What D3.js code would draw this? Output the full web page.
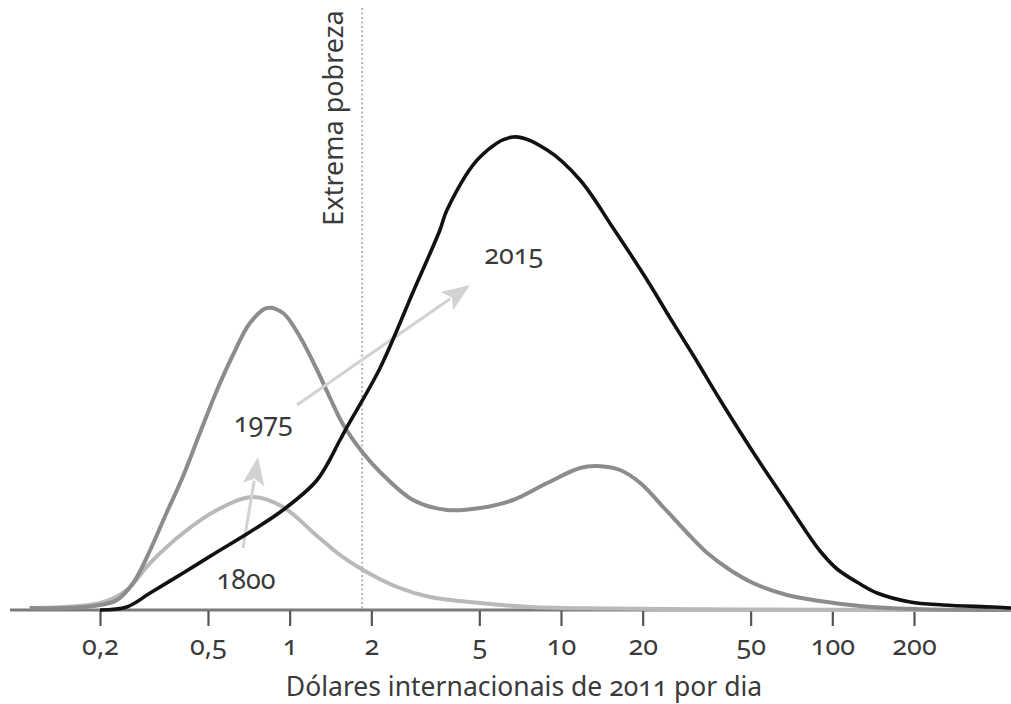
<!DOCTYPE html>
<html>
<head>
<meta charset="utf-8">
<script src="https://cdn.jsdelivr.net/npm/d3@7"></script>
<style>
  html, body { margin: 0; padding: 0; background: #fff; }
  svg { display: block; }
  text { font-family: "Noto Sans", "Open Sans", sans-serif; fill: #3a3a3a; font-variant-numeric: oldstyle-nums; }
</style>
</head>
<body>
<svg id="chart" width="1011" height="704"></svg>
<script>
// Income distribution (density by daily income, log scale), 2011 international dollars
const income1800 = [0.113, 0.2, 0.251, 0.306, 0.405, 0.54, 0.733, 0.945, 1.262, 1.533, 1.864, 2.488, 3.29, 5.03, 7.69, 15, 50, 150, 456];
const density1800 = [0.02, 0.07, 0.20, 0.47, 0.77, 1.00, 1.13, 1.03, 0.74, 0.55, 0.40, 0.23, 0.13, 0.07, 0.03, 0.015, 0.006, 0.002, 0.0];

const income1975 = [0.11, 0.151, 0.2, 0.231, 0.265, 0.298, 0.353, 0.405, 0.467, 0.54, 0.618, 0.714, 0.825, 0.945, 1.092, 1.262, 1.409, 1.57, 1.864, 2.154, 2.85, 3.8, 5.03, 6.66, 8.89, 11.76, 13.58, 16.5, 19.6, 23.8, 29.2, 34.6, 42.0, 51.0, 68.1, 90.1, 126.6, 200, 456];
const density1975 = [0.02, 0.02, 0.05, 0.10, 0.27, 0.53, 0.98, 1.34, 1.77, 2.20, 2.55, 2.87, 3.02, 2.97, 2.73, 2.40, 2.12, 1.86, 1.57, 1.38, 1.10, 1.00, 1.02, 1.10, 1.27, 1.42, 1.44, 1.40, 1.27, 1.03, 0.77, 0.57, 0.40, 0.27, 0.15, 0.09, 0.04, 0.01, 0.0];

const income2015 = [0.2, 0.251, 0.306, 0.405, 0.54, 0.714, 0.945, 1.262, 1.533, 1.627, 2.154, 2.85, 3.58, 3.8, 5.03, 6.66, 8.89, 11.76, 15.56, 20.76, 25.24, 30.68, 38.6, 51.0, 68.1, 80.7, 90.1, 104.1, 126.6, 146.2, 193.5, 256, 391, 456];
const density2015 = [0.0, 0.03, 0.17, 0.37, 0.58, 0.78, 1.00, 1.30, 1.70, 1.83, 2.42, 3.18, 3.80, 4.00, 4.53, 4.73, 4.60, 4.30, 3.82, 3.30, 2.92, 2.55, 2.10, 1.58, 1.07, 0.77, 0.59, 0.41, 0.26, 0.17, 0.08, 0.05, 0.03, 0.02];

const tickValues = [0.2, 0.5, 1, 2, 5, 10, 20, 50, 100, 200];
const tickLabels = ["0,2", "0,5", "1", "2", "5", "10", "20", "50", "100", "200"];

const povertyLine = 1.85;
const povertyLabel = "Extrema pobreza";
const axisTitle = "Dólares internacionais de 2011 por dia";

// Year labels and the arrows joining them, in data units (income, density)
const yearLabels = [
  { text: "1800", x: 0.69, y: 0.21 },
  { text: "1975", x: 0.8, y: 1.78 },
  { text: "2015", x: 6.7, y: 3.46 }
];
const arrows = [
  { from: [0.673, 0.62], to: [0.765, 1.53] },
  { from: [1.064, 2.05], to: [4.62, 3.25] }
];

const svg = d3.select("#chart");
const W = 1011;

const x = d3.scaleLog().domain([0.2, 200]).range([100, 914]);
const y = d3.scaleLinear().domain([0, 4.8]).range([610, 130]);

// Poverty line
svg.append("line")
  .attr("x1", x(povertyLine)).attr("x2", x(povertyLine))
  .attr("y1", 8).attr("y2", y(0))
  .attr("stroke", "#b4b4b4").attr("stroke-width", 2)
  .attr("stroke-dasharray", "2,2.5");

svg.append("text")
  .attr("transform", `translate(${x(povertyLine) - 19},${118}) rotate(-90)`)
  .attr("text-anchor", "middle")
  .attr("font-size", 27)
  .text(povertyLabel);

// Baseline across the full width
svg.append("line")
  .attr("x1", 10).attr("x2", W)
  .attr("y1", y(0)).attr("y2", y(0))
  .attr("stroke", "#7a7a7a").attr("stroke-width", 3);

// Axis ticks and labels
const axis = d3.axisBottom(x)
  .tickValues(tickValues)
  .tickSize(15)
  .tickPadding(10)
  .tickFormat((d, i) => tickLabels[i]);

const gAxis = svg.append("g")
  .attr("transform", `translate(0,${y(0) + 1})`)
  .call(axis);
gAxis.select(".domain").remove();
gAxis.selectAll(".tick line").attr("stroke", "#555").attr("stroke-width", 2.2);
gAxis.selectAll(".tick text")
  .attr("font-size", 27)
  .attr("fill", "#3a3a3a")
  .style("font-family", '"Noto Sans", sans-serif');

svg.append("text")
  .attr("x", 524)
  .attr("y", 696)
  .attr("text-anchor", "middle")
  .attr("font-size", 26.5)
  .text(axisTitle);

// Curves
const line = d3.line()
  .x(d => x(d[0]))
  .y(d => y(Math.max(0, d[1])))
  .curve(d3.curveCatmullRom.alpha(0.5));

const series = [
  { inc: income1800, den: density1800, color: "#b9b9b9", width: 4 },
  { inc: income1975, den: density1975, color: "#8c8c8c", width: 4 },
  { inc: income2015, den: density2015, color: "#111111", width: 3.6 }
];

function drawArrow(a) {
  const x1 = x(a.from[0]), y1 = y(a.from[1]);
  const x2 = x(a.to[0]), y2 = y(a.to[1]);
  const ang = Math.atan2(y2 - y1, x2 - x1);
  const L = 28, Hw = 11;
  const bx = x2 - L * Math.cos(ang), by = y2 - L * Math.sin(ang);
  svg.append("line")
    .attr("x1", x1).attr("y1", y1).attr("x2", bx + 4 * Math.cos(ang)).attr("y2", by + 4 * Math.sin(ang))
    .attr("stroke", "#d2d2d2").attr("stroke-width", 3);
  const px = -Math.sin(ang), py = Math.cos(ang);
  const notch = 6;
  const nx = bx + notch * Math.cos(ang), ny = by + notch * Math.sin(ang);
  svg.append("path")
    .attr("d", `M${x2},${y2} L${bx + Hw * px},${by + Hw * py} L${nx},${ny} L${bx - Hw * px},${by - Hw * py} Z`)
    .attr("fill", "#d2d2d2");
}

series.forEach((s, i) => {
  const pts = s.inc.map((v, j) => [v, s.den[j]]);
  svg.append("path")
    .datum(pts)
    .attr("d", line)
    .attr("fill", "none")
    .attr("stroke", s.color)
    .attr("stroke-width", s.width)
    .attr("stroke-linejoin", "round");
  if (i === 1) arrows.forEach(drawArrow);
});

// Year labels
svg.selectAll(".year")
  .data(yearLabels)
  .join("text")
  .attr("class", "year")
  .attr("x", d => x(d.x))
  .attr("y", d => y(d.y))
  .attr("text-anchor", "middle")
  .attr("font-size", 27)
  .text(d => d.text);
</script>
</body>
</html>
